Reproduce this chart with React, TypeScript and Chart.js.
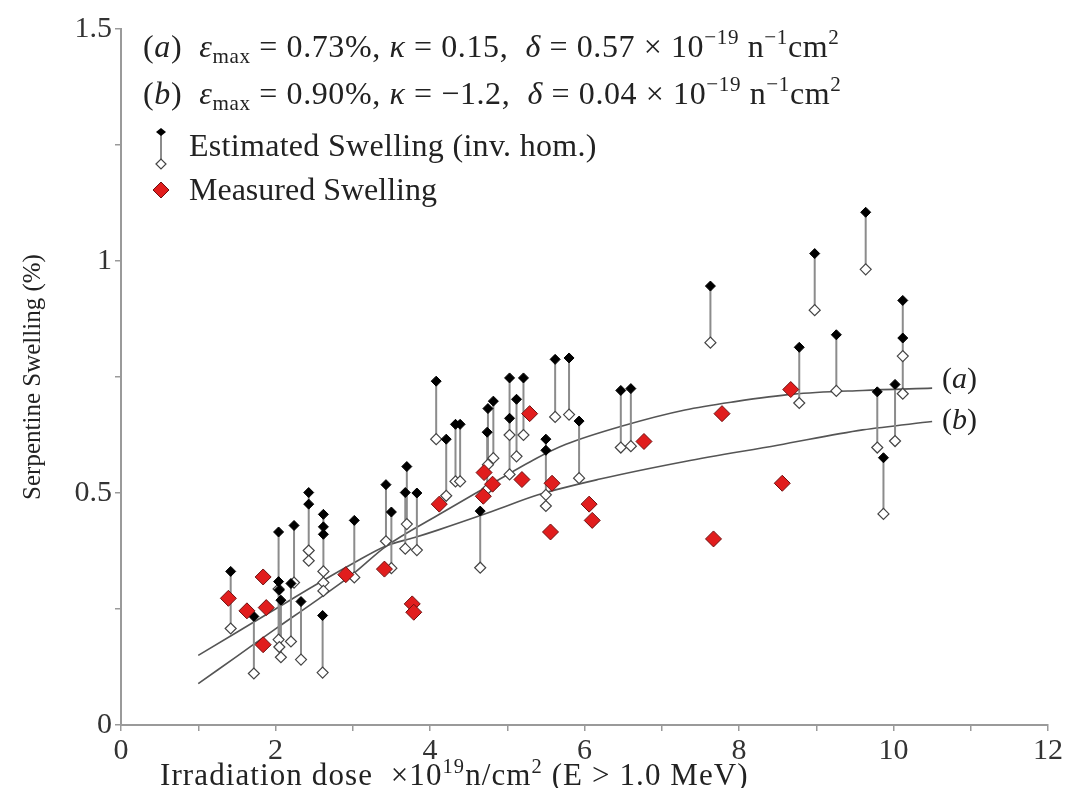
import React, { useEffect, useRef } from 'react';
import { Chart, registerables } from 'chart.js';

Chart.register(...registerables);

// Estimated swelling (inv. hom.): dose, upper (filled) and lower (open) estimates
const estDose = [1.42, 1.72, 2.04, 2.04, 2.05, 2.07, 2.24, 2.20, 2.33, 2.61, 2.43, 2.43, 2.62, 2.62, 2.62, 3.02, 3.43, 3.50, 3.70, 3.68, 3.83, 4.08, 4.21, 4.33, 4.39, 4.65, 4.75, 4.74, 4.82, 5.03, 5.03, 5.12, 5.21, 5.50, 5.50, 5.62, 5.80, 5.93, 6.47, 6.60, 7.63, 8.78, 8.98, 9.26, 9.64, 9.79, 9.87, 10.02, 10.12, 10.12];
const estUpper = [0.331, 0.234, 0.416, 0.309, 0.291, 0.269, 0.430, 0.305, 0.266, 0.236, 0.501, 0.476, 0.454, 0.427, 0.411, 0.441, 0.518, 0.459, 0.557, 0.501, 0.500, 0.741, 0.616, 0.648, 0.648, 0.461, 0.682, 0.631, 0.698, 0.748, 0.661, 0.702, 0.748, 0.616, 0.592, 0.788, 0.791, 0.655, 0.721, 0.725, 0.946, 0.814, 1.016, 0.841, 1.105, 0.718, 0.576, 0.734, 0.915, 0.834];
const estLower = [0.208, 0.111, 0.293, 0.184, 0.168, 0.146, 0.307, 0.180, 0.141, 0.113, 0.376, 0.354, 0.331, 0.307, 0.289, 0.318, 0.396, 0.338, 0.433, 0.380, 0.377, 0.616, 0.494, 0.525, 0.525, 0.339, 0.561, 0.508, 0.575, 0.625, 0.540, 0.579, 0.625, 0.496, 0.472, 0.664, 0.669, 0.532, 0.598, 0.601, 0.824, 0.694, 0.894, 0.720, 0.982, 0.598, 0.455, 0.612, 0.795, 0.714];

// Measured swelling
const measDose = [1.39, 1.63, 1.84, 1.88, 1.84, 2.91, 3.41, 3.77, 3.79, 4.12, 4.70, 4.81, 4.69, 5.19, 5.29, 5.58, 5.56, 6.06, 6.10, 6.77, 7.67, 7.78, 8.56, 8.67];
const measSwelling = [0.273, 0.246, 0.319, 0.253, 0.173, 0.324, 0.336, 0.261, 0.243, 0.476, 0.544, 0.519, 0.493, 0.529, 0.671, 0.521, 0.416, 0.476, 0.441, 0.611, 0.401, 0.671, 0.521, 0.723];

// Fitted curves
const curveADose = [1, 1.5, 2, 2.5, 3, 3.43, 4.1, 4.7, 5.38, 5.76, 6.5, 7.3, 7.95, 8.7, 9.6, 10.5];
const curveAVal = [0.089, 0.148, 0.207, 0.265, 0.325, 0.385, 0.452, 0.51, 0.575, 0.605, 0.645, 0.679, 0.697, 0.713, 0.721, 0.726];
const curveBDose = [1, 1.5, 2, 2.5, 3, 3.43, 3.8, 4.1, 4.8, 5.4, 6.2, 7.3, 8.5, 9.6, 10.5];
const curveBVal = [0.15, 0.2, 0.25, 0.3, 0.348, 0.386, 0.404, 0.42, 0.46, 0.496, 0.53, 0.568, 0.603, 0.636, 0.654];

const xLabelTicks = [0, 2, 4, 6, 8, 10, 12];
const yLabelTicks = [0, 0.5, 1, 1.5];

const FONT = '"Liberation Serif", "Times New Roman", serif';
const TEXT = '#222';
const AXIS = '#9a9a9a';

const supS: React.CSSProperties = { fontSize: '0.66em', verticalAlign: '0.6em', lineHeight: 0 };
const subS: React.CSSProperties = { fontSize: '0.66em', verticalAlign: '-0.3em', lineHeight: 0 };
const textBase: React.CSSProperties = {
  position: 'absolute',
  fontFamily: FONT,
  color: TEXT,
  whiteSpace: 'nowrap',
  lineHeight: 1,
};

export default function App() {
  const ref = useRef<HTMLCanvasElement>(null);

  useEffect(() => {
    if (!ref.current) return;
    const connectors: { x: number; y: number | null }[] = [];
    estDose.forEach((d, i) => {
      connectors.push({ x: d, y: estUpper[i] }, { x: d, y: estLower[i] }, { x: d, y: null });
    });

    const chart = new Chart(ref.current, {
      type: 'scatter',
      data: {
        datasets: [
          {
            label: 'Measured Swelling',
            data: measDose.map((d, i) => ({ x: d, y: measSwelling[i] })),
            pointStyle: 'rectRot',
            pointRadius: 8,
            backgroundColor: '#e11d1d',
            borderColor: '#6e1010',
            borderWidth: 1,
            order: 0,
          },
          {
            label: 'Estimated Swelling (upper)',
            data: estDose.map((d, i) => ({ x: d, y: estUpper[i] })),
            pointStyle: 'rectRot',
            pointRadius: 5,
            backgroundColor: '#000',
            borderColor: '#000',
            borderWidth: 1,
            order: 1,
          },
          {
            label: 'Estimated Swelling (lower)',
            data: estDose.map((d, i) => ({ x: d, y: estLower[i] })),
            pointStyle: 'rectRot',
            pointRadius: 5.5,
            backgroundColor: '#fff',
            borderColor: '#444',
            borderWidth: 1.2,
            order: 2,
          },
          {
            type: 'line',
            label: 'connectors',
            data: connectors as any,
            showLine: true,
            spanGaps: false,
            pointRadius: 0,
            borderColor: '#8c8c8c',
            borderWidth: 2,
            order: 3,
          },
          {
            type: 'line',
            label: '(a)',
            data: curveADose.map((d, i) => ({ x: d, y: curveAVal[i] })),
            showLine: true,
            pointRadius: 0,
            borderColor: '#555',
            borderWidth: 1.6,
            cubicInterpolationMode: 'monotone',
            order: 4,
          },
          {
            type: 'line',
            label: '(b)',
            data: curveBDose.map((d, i) => ({ x: d, y: curveBVal[i] })),
            showLine: true,
            pointRadius: 0,
            borderColor: '#555',
            borderWidth: 1.6,
            cubicInterpolationMode: 'monotone',
            order: 5,
          },
        ] as any,
      },
      options: {
        animation: false,
        responsive: false,
        layout: { padding: { top: 17, right: 10, left: 0, bottom: 0 } },
        plugins: { legend: { display: false }, tooltip: { enabled: false } },
        scales: {
          x: {
            type: 'linear',
            min: 0,
            max: 12,
            ticks: {
              stepSize: 1,
              autoSkip: false,
              maxRotation: 0,
              padding: 2,
              color: '#333',
              font: { family: FONT, size: 30 },
              callback: (v: any) => (xLabelTicks.includes(Number(v)) ? String(v) : ''),
            },
            grid: { drawOnChartArea: false, drawTicks: true, tickLength: 6, color: AXIS, lineWidth: 1.5 },
            border: { color: AXIS, width: 2 },
            afterFit: (s: any) => {
              s.height = 63;
            },
          },
          y: {
            type: 'linear',
            min: 0,
            max: 1.5,
            ticks: {
              stepSize: 0.25,
              autoSkip: false,
              padding: 3,
              color: '#333',
              font: { family: FONT, size: 30 },
              callback: (v: any) => {
                const n = Number(v);
                const hit = yLabelTicks.find((t) => Math.abs(t - n) < 1e-9);
                return hit === undefined ? '' : String(hit);
              },
            },
            grid: { drawOnChartArea: false, drawTicks: true, tickLength: 6, color: AXIS, lineWidth: 1.5 },
            border: { color: AXIS, width: 2 },
            title: {
              display: true,
              text: 'Serpentine Swelling (%)',
              color: TEXT,
              font: { family: FONT, size: 25 },
              padding: { top: 10, bottom: 0 },
            },
            afterFit: (s: any) => {
              s.width = 113;
            },
          },
        },
      } as any,
    });
    return () => chart.destroy();
  }, []);

  return (
    <div style={{ position: 'relative', width: 1057, height: 780 }}>
      <canvas ref={ref} width={1057} height={780} style={{ display: 'block' }} />

      {/* parameter lines */}
      <div style={{ ...textBase, left: 135, top: 22, fontSize: 32, letterSpacing: '0.6px' }}>
        (<i>a</i>)&nbsp;&nbsp;<i>ε</i>
        <sub style={subS}>max</sub> = 0.73%, <i>κ</i> = 0.15,&nbsp; <i>δ</i> = 0.57 × 10
        <sup style={supS}>−19</sup> n<sup style={supS}>−1</sup>cm<sup style={supS}>2</sup>
      </div>
      <div style={{ ...textBase, left: 135, top: 69, fontSize: 32, letterSpacing: '0.6px' }}>
        (<i>b</i>)&nbsp;&nbsp;<i>ε</i>
        <sub style={subS}>max</sub> = 0.90%, <i>κ</i> = −1.2,&nbsp; <i>δ</i> = 0.04 × 10
        <sup style={supS}>−19</sup> n<sup style={supS}>−1</sup>cm<sup style={supS}>2</sup>
      </div>

      {/* legend markers */}
      <svg style={{ position: 'absolute', left: 140, top: 110 }} width={28} height={90}>
        <line x1={13} y1={14} x2={13} y2={46} stroke="#8c8c8c" strokeWidth={2} />
        <polygon points="8,14 13,10 18,14 13,18" fill="#000" />
        <polygon points="8,46 13,41 18,46 13,51" fill="#fff" stroke="#444" strokeWidth={1.2} />
        <polygon points="5,72 13,64 21,72 13,80" fill="#e11d1d" stroke="#6e1010" strokeWidth={1} />
      </svg>
      <div style={{ ...textBase, left: 181, top: 121, fontSize: 32, letterSpacing: '0.3px' }}>Estimated Swelling (inv. hom.)</div>
      <div style={{ ...textBase, left: 181, top: 165, fontSize: 32 }}>Measured Swelling</div>

      {/* curve labels */}
      <div style={{ ...textBase, left: 934, top: 355, fontSize: 30 }}>
        (<i>a</i>)
      </div>
      <div style={{ ...textBase, left: 934, top: 396, fontSize: 30 }}>
        (<i>b</i>)
      </div>

      {/* x axis title */}
      <div style={{ ...textBase, left: 152, top: 751, fontSize: 31, letterSpacing: '1.1px' }}>
        Irradiation dose&nbsp; ×10<sup style={supS}>19</sup>n/cm<sup style={supS}>2</sup> (E &gt; 1.0 MeV)
      </div>
    </div>
  );
}
